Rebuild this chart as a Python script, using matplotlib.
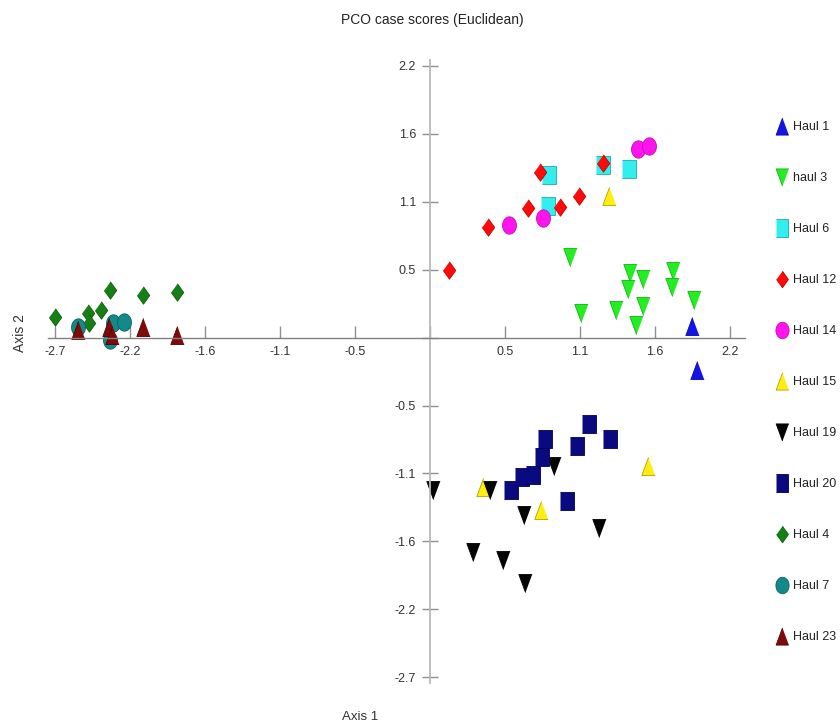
import matplotlib
matplotlib.use("Agg")
import numpy as np
import matplotlib.pyplot as plt
from matplotlib.lines import Line2D

plt.rcParams['font.family'] = ['Liberation Sans', 'DejaVu Sans']

# ---- data (PCO scores) ----
haul1_x = [1.904, 1.940]
haul1_y = [0.093, -0.260]
haul3_x = [1.017, 1.095, 1.352, 1.453, 1.439, 1.546, 1.550, 1.497, 1.768, 1.759, 1.921]
haul3_y = [0.647, 0.195, 0.222, 0.518, 0.390, 0.473, 0.254, 0.101, 0.535, 0.409, 0.302]
haul6_x = [0.867, 0.860, 1.255, 1.448]
haul6_y = [1.305, 1.056, 1.385, 1.351]
haul12_x = [0.140, 0.424, 0.714, 0.799, 0.945, 1.085, 1.259]
haul12_y = [0.543, 0.885, 1.043, 1.327, 1.051, 1.136, 1.404]
haul14_x = [0.576, 0.823, 1.509, 1.594]
haul14_y = [0.901, 0.957, 1.514, 1.538]
haul15_x = [1.301, 0.387, 0.804, 1.587]
haul15_y = [1.136, -1.197, -1.384, -1.030]
haul19_x = [0.020, 0.436, 0.901, 0.685, 1.230, 0.310, 0.528, 0.690]
haul19_y = [-1.223, -1.223, -1.030, -1.424, -1.531, -1.718, -1.785, -1.972]
haul20_x = [0.589, 0.666, 0.751, 0.812, 0.836, 1.070, 1.156, 1.308, 0.993]
haul20_y = [-1.223, -1.116, -1.103, -0.956, -0.816, -0.870, -0.693, -0.816, -1.311]
haul4_x = [-2.725, -2.483, -2.476, -2.391, -2.326, -2.088, -1.841]
haul4_y = [0.168, 0.195, 0.115, 0.222, 0.382, 0.342, 0.368]
haul7_x = [-2.556, -2.306, -2.224, -2.326]
haul7_y = [0.087, 0.120, 0.128, -0.019]
haul23_x = [-2.556, -2.333, -2.311, -2.084, -1.841]
haul23_y = [0.061, 0.085, 0.021, 0.087, 0.021]

labels = ["Haul 1", "haul 3", "Haul 6", "Haul 12", "Haul 14", "Haul 15",
          "Haul 19", "Haul 20", "Haul 4", "Haul 7", "Haul 23"]
xs = [haul1_x, haul3_x, haul6_x, haul12_x, haul14_x, haul15_x,
      haul19_x, haul20_x, haul4_x, haul7_x, haul23_x]
ys = [haul1_y, haul3_y, haul6_y, haul12_y, haul14_y, haul15_y,
      haul19_y, haul20_y, haul4_y, haul7_y, haul23_y]

# marker shapes (slightly narrow, as in the original rendering)
w = 0.74
tri_up = [(0, 1), (-w, -1), (w, -1)]
tri_dn = [(0, -1), (-w, 1), (w, 1)]
rect = [(-w, -1), (w, -1), (w, 1), (-w, 1)]
diam = [(0, 1), (0.72, 0), (0, -1), (-0.72, 0)]
_t = np.linspace(0, 2 * np.pi, 41)
ell = list(zip(0.8 * np.cos(_t), np.sin(_t)))

shape_names = ['up', 'dn', 'rect', 'diam', 'ell', 'up', 'dn', 'rect', 'diam', 'ell', 'up']
shape_map = {'up': tri_up, 'dn': tri_dn, 'rect': rect, 'diam': diam, 'ell': ell}
colors = ['#1414e6', '#22ee22', '#33eeee', '#ff0a0a', '#ff14ee', '#ffee10',
          '#050505', '#0a0a80', '#168016', '#138a8a', '#800a0a']
edges = ['#0a0aa0', '#18b018', '#22aaaa', '#c00000', '#c010b0', '#b0a000',
         '#000000', '#000050', '#0c5a0c', '#0a6060', '#500000']
size_map = {'up': 13, 'dn': 13, 'rect': 13, 'diam': 12.5, 'ell': 12.5}

step = 0.545
tick_vals = [k * step for k in range(-5, 5)]
xtick_labels = ["-2.7", "-2.2", "-1.6", "-1.1", "-0.5", "", "0.5", "1.1", "1.6", "2.2"]
ytick_labels = ["-2.7", "-2.2", "-1.6", "-1.1", "-0.5", "", "0.5", "1.1", "1.6", "2.2"]

fig = plt.figure(figsize=(8.4, 7.25), dpi=100)
ax = fig.add_axes([48 / 840, 42 / 725, 697 / 840, 623 / 725])
ax.set_xlim(-2.776, 2.289)
ax.set_ylim(-2.772, 2.228)

for x, y, sh, c, e in zip(xs, ys, shape_names, colors, edges):
    ax.plot(x, y, linestyle='none', marker=shape_map[sh], markersize=size_map[sh],
            markerfacecolor=c, markeredgecolor=e, markeredgewidth=0.6)

for side in ['top', 'right']:
    ax.spines[side].set_visible(False)
ax.spines['left'].set_position(('data', 0))
ax.spines['bottom'].set_position(('data', 0))
ax.spines['left'].set_color('#b8b8b8')
ax.spines['bottom'].set_color('#808080')
ax.spines['left'].set_linewidth(1.3)
ax.spines['bottom'].set_linewidth(1.0)

ax.set_xticks(tick_vals)
ax.set_xticklabels(xtick_labels)
ax.set_yticks(tick_vals)
ax.set_yticklabels(ytick_labels)
ax.tick_params(axis='x', direction='in', length=9, width=1.0, color='#909090',
               pad=6, labelsize=9, labelcolor='#333333')
ax.tick_params(axis='y', direction='inout', length=12, width=1.0, color='#909090',
               pad=4, labelsize=9, labelcolor='#333333')

fig.text(432 / 840, 1 - 20 / 725, "PCO case scores (Euclidean)", ha='center', va='center',
         fontsize=10, color='#222222')
fig.text(20 / 840, 1 - 333 / 725, "Axis 2", ha='center', va='center', rotation=90,
         fontsize=10, color='#333333')
fig.text(360 / 840, 1 - 717 / 725, "Axis 1", ha='center', va='center', fontsize=9.5,
         color='#333333')

handles = [Line2D([], [], linestyle='none', marker=shape_map[sh],
                  markersize=size_map[sh] * 0.95,
                  markerfacecolor=c, markeredgecolor=e, markeredgewidth=0.6)
           for sh, c, e in zip(shape_names, colors, edges)]
fig.legend(handles, labels, loc='upper left', bbox_to_anchor=(776 / 840, 1 - 121 / 725),
           frameon=False, fontsize=9, labelspacing=3.12, handlelength=1.0,
           handletextpad=0.35, borderaxespad=0, borderpad=0, labelcolor='#222222')

fig.savefig("out.png", dpi=100, facecolor='white')
